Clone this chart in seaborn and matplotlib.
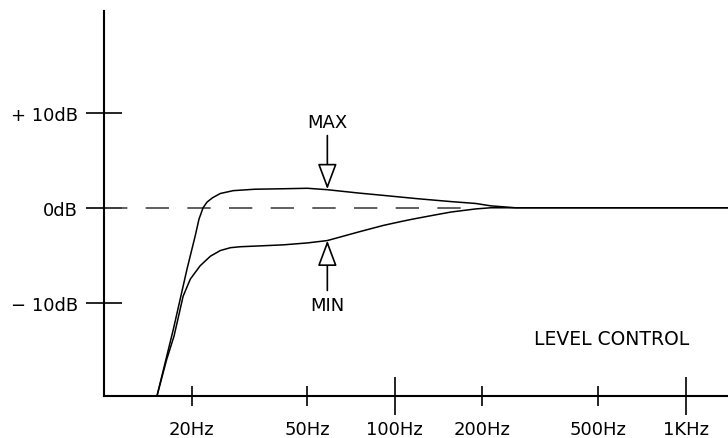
import matplotlib
matplotlib.use("Agg")
import matplotlib.pyplot as plt
import seaborn as sns

# values (frequency in Hz, level in dB)
max_freq = [15.2, 17.3, 19.3, 20.6, 21.2, 21.9, 22.6, 23.6, 25.1, 27.8, 33.0, 41.4,
            50.0, 58.6, 75.0, 91.5, 120.0, 156.0, 190.0, 214.0, 260.0, 1400.0]
max_db = [-19.8, -12.8, -6.4, -2.9, -1.2, 0.0, 0.6, 1.05, 1.5, 1.8, 1.95, 2.0,
          2.05, 1.9, 1.55, 1.3, 0.95, 0.65, 0.45, 0.2, 0.0, 0.0]

min_freq = [15.2, 16.4, 17.4, 18.7, 19.8, 21.4, 23.2, 25.1, 27.2, 29.4, 35.0, 41.4,
            50.0, 58.6, 76.0, 91.5, 105.0, 115.0, 135.0, 156.0, 190.0, 214.0, 260.0, 1400.0]
min_db = [-19.8, -16.0, -13.5, -9.3, -7.5, -6.1, -5.1, -4.5, -4.2, -4.1, -4.0, -3.9,
          -3.7, -3.45, -2.5, -1.85, -1.45, -1.2, -0.8, -0.45, -0.12, 0.0, 0.0, 0.0]

ref_freq = [10.0, 190.0]
ref_db = [0.0, 0.0]

major_ticks = [100, 1000]
major_labels = ["100Hz", "1KHz"]
minor_ticks = [20, 50, 200, 500]
minor_labels = ["20Hz", "50Hz", "200Hz", "500Hz"]
db_ticks = [-10, 0, 10]
db_labels = ["\u2212 10dB", "0dB", "+ 10dB"]

marker_freq = 58.6
max_tip, max_tail, max_text_y = 1.95, 7.6, 9.0
min_tip, min_tail, min_text_y = -3.45, -8.7, -10.2


def main():
    sns.set_theme(style="white")
    plt.rcParams["font.family"] = ["DejaVu Sans"]
    plt.rcParams["text.color"] = "black"

    fig, ax = plt.subplots(figsize=(7.28, 4.39), dpi=100)
    fig.subplots_adjust(left=0.143, right=1.0, bottom=0.0957, top=0.9727)

    ax.set_xscale("log")
    ax.set_xlim(10, 1400)
    ax.set_ylim(-19.8, 20.7)

    # 0 dB reference
    ax.plot(ref_freq, ref_db, color="#444444", lw=1.2, dashes=(14, 11))

    sns.lineplot(x=max_freq, y=max_db, ax=ax, color="black", lw=1.1,
                 estimator=None, sort=False)
    sns.lineplot(x=min_freq, y=min_db, ax=ax, color="black", lw=1.1,
                 estimator=None, sort=False)

    arrow = dict(arrowstyle="-|>,head_length=1.6,head_width=0.6", fc="white",
                 ec="black", lw=1.2, shrinkA=0, shrinkB=0, mutation_scale=10)
    ax.annotate("", xy=(marker_freq, max_tip), xytext=(marker_freq, max_tail),
                arrowprops=arrow)
    ax.annotate("", xy=(marker_freq, min_tip), xytext=(marker_freq, min_tail),
                arrowprops=arrow)
    ax.text(marker_freq, max_text_y, "MAX", ha="center", va="center",
            fontsize=13, color="black")
    ax.text(marker_freq, min_text_y, "MIN", ha="center", va="center",
            fontsize=13, color="black")
    ax.text(556, -13.8, "LEVEL CONTROL", ha="center", va="center",
            fontsize=13.5, color="black")

    ax.set_xticks(major_ticks)
    ax.set_xticklabels(major_labels)
    ax.set_xticks(minor_ticks, minor=True)
    ax.set_xticklabels(minor_labels, minor=True)
    ax.set_yticks(db_ticks)
    ax.set_yticklabels(db_labels)

    ax.tick_params(axis="x", which="major", bottom=True, direction="inout", length=27,
                   width=1.2, pad=4, labelsize=13, color="black", labelcolor="black")
    ax.tick_params(axis="x", which="minor", bottom=True, direction="inout", length=13.7,
                   width=1.2, pad=10.5, labelsize=13, color="black", labelcolor="black")
    ax.tick_params(axis="y", which="major", left=True, direction="inout", length=26,
                   width=1.2, pad=6, labelsize=13, color="black", labelcolor="black")
    ax.tick_params(axis="y", which="minor", left=False)

    for side in ["top", "right"]:
        ax.spines[side].set_visible(False)
    for side in ["left", "bottom"]:
        ax.spines[side].set_color("black")
        ax.spines[side].set_linewidth(1.5)

    ax.set_xlabel("")
    ax.set_ylabel("")

    fig.savefig("out.png", dpi=100, facecolor="white")
    plt.close(fig)


if __name__ == "__main__":
    main()
